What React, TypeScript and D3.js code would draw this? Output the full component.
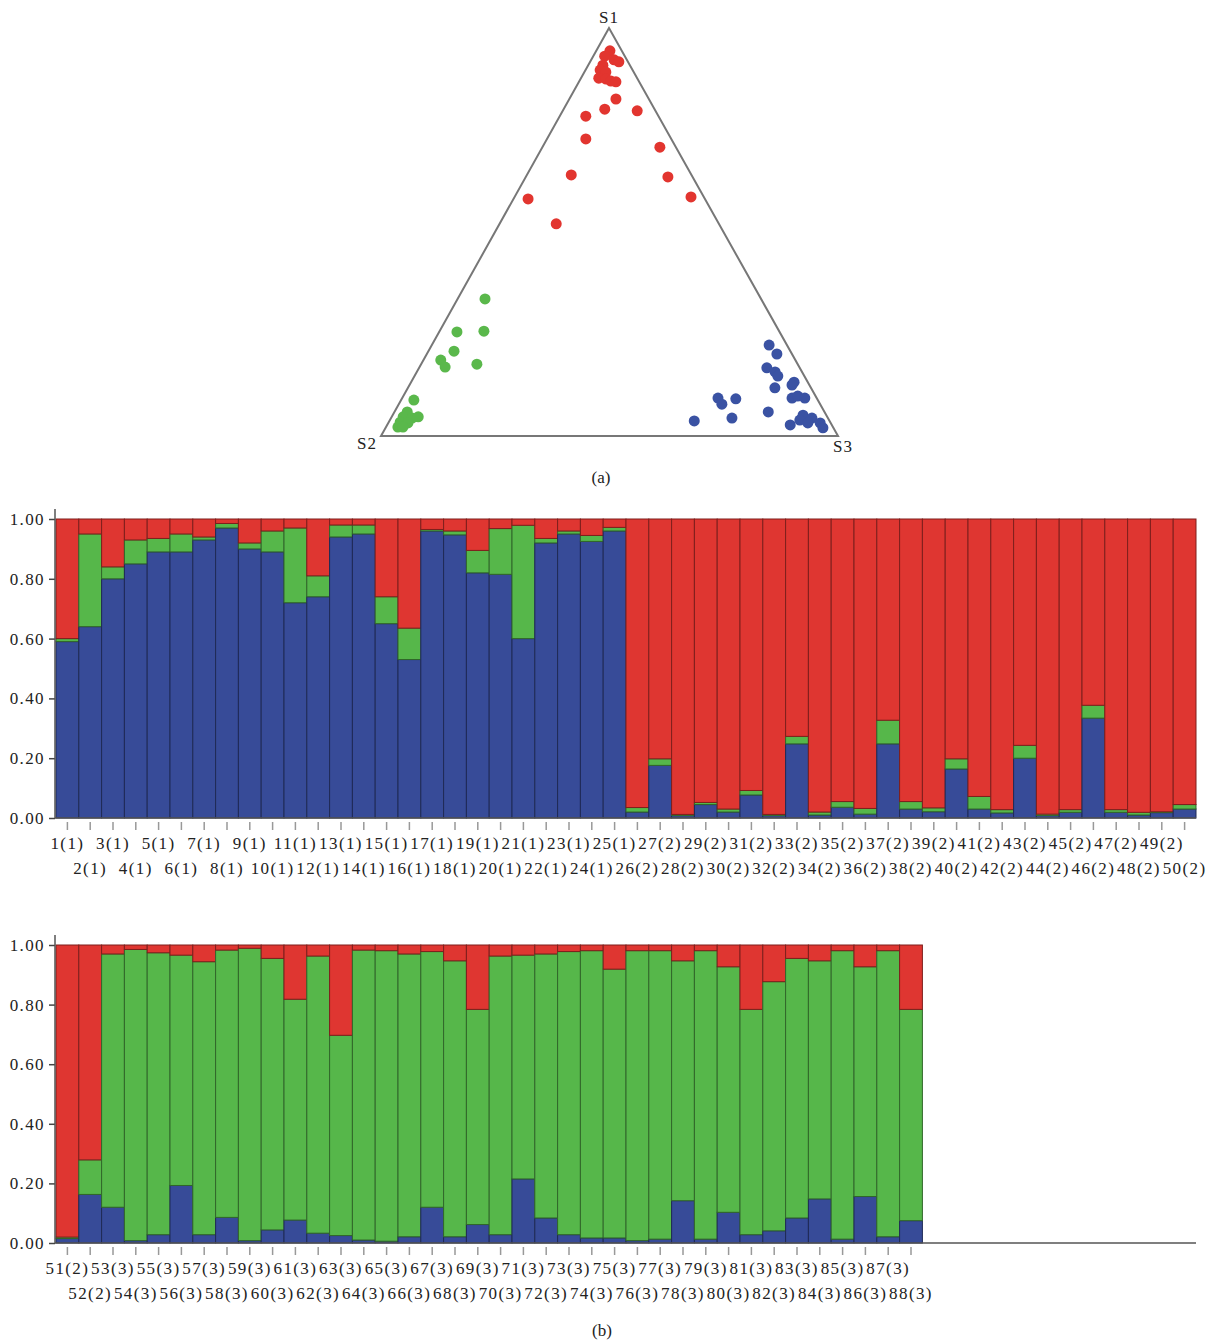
import { useEffect, useRef } from 'react';
import * as d3 from 'd3';

// individuals 1-50 (upper panel) and 51-88 (lower panel), population in brackets
const labelsTop = [
  "1(1)", "2(1)", "3(1)", "4(1)", "5(1)", "6(1)", "7(1)", "8(1)", "9(1)", "10(1)",
  "11(1)", "12(1)", "13(1)", "14(1)", "15(1)", "16(1)", "17(1)", "18(1)", "19(1)", "20(1)",
  "21(1)", "22(1)", "23(1)", "24(1)", "25(1)", "26(2)", "27(2)", "28(2)", "29(2)", "30(2)",
  "31(2)", "32(2)", "33(2)", "34(2)", "35(2)", "36(2)", "37(2)", "38(2)", "39(2)", "40(2)",
  "41(2)", "42(2)", "43(2)", "44(2)", "45(2)", "46(2)", "47(2)", "48(2)", "49(2)", "50(2)"
];
// membership share of the blue and green cluster; red is the rest
const blueTop = [
  0.59, 0.64, 0.80, 0.85, 0.89, 0.89, 0.93, 0.97, 0.90, 0.89,
  0.72, 0.74, 0.94, 0.95, 0.65, 0.53, 0.96, 0.947, 0.82, 0.815,
  0.60, 0.92, 0.95, 0.925, 0.96, 0.02, 0.176, 0.008, 0.045, 0.02,
  0.077, 0.008, 0.248, 0.01, 0.036, 0.013, 0.248, 0.03, 0.021, 0.164,
  0.03, 0.017, 0.20, 0.008, 0.019, 0.334, 0.019, 0.01, 0.018, 0.03
];
const greenTop = [
  0.01, 0.31, 0.04, 0.08, 0.045, 0.06, 0.01, 0.015, 0.02, 0.07,
  0.25, 0.07, 0.04, 0.03, 0.09, 0.105, 0.005, 0.013, 0.075, 0.153,
  0.379, 0.015, 0.01, 0.02, 0.012, 0.015, 0.022, 0.004, 0.007, 0.01,
  0.015, 0.004, 0.025, 0.01, 0.019, 0.019, 0.079, 0.025, 0.013, 0.034,
  0.042, 0.011, 0.043, 0.005, 0.009, 0.043, 0.009, 0.009, 0.003, 0.015
];

const labelsBottom = [
  "51(2)", "52(2)", "53(3)", "54(3)", "55(3)", "56(3)", "57(3)", "58(3)", "59(3)", "60(3)",
  "61(3)", "62(3)", "63(3)", "64(3)", "65(3)", "66(3)", "67(3)", "68(3)", "69(3)", "70(3)",
  "71(3)", "72(3)", "73(3)", "74(3)", "75(3)", "76(3)", "77(3)", "78(3)", "79(3)", "80(3)",
  "81(3)", "82(3)", "83(3)", "84(3)", "85(3)", "86(3)", "87(3)", "88(3)"
];
const blueBottom = [
  0.015, 0.163, 0.12, 0.008, 0.028, 0.193, 0.028, 0.086, 0.008, 0.044,
  0.077, 0.033, 0.025, 0.01, 0.006, 0.021, 0.12, 0.021, 0.062, 0.028,
  0.215, 0.084, 0.028, 0.017, 0.017, 0.008, 0.013, 0.142, 0.013, 0.103,
  0.028, 0.041, 0.084, 0.148, 0.013, 0.156, 0.021, 0.075
];
const greenBottom = [
  0.005, 0.116, 0.85, 0.977, 0.946, 0.773, 0.916, 0.897, 0.981, 0.911,
  0.741, 0.93, 0.672, 0.973, 0.975, 0.949, 0.858, 0.926, 0.722, 0.935,
  0.751, 0.886, 0.95, 0.964, 0.902, 0.973, 0.968, 0.805, 0.968, 0.824,
  0.756, 0.836, 0.871, 0.799, 0.968, 0.771, 0.96, 0.709
];

// triangle plot: [S1, S2, S3] proportions of each dot
const redDots = [
  [0.944, 0.026, 0.030], [0.931, 0.044, 0.025], [0.922, 0.028, 0.050], [0.917, 0.020, 0.063],
  [0.909, 0.059, 0.032], [0.897, 0.071, 0.032], [0.892, 0.061, 0.047], [0.877, 0.084, 0.039],
  [0.875, 0.069, 0.056], [0.870, 0.061, 0.069], [0.868, 0.051, 0.081], [0.826, 0.072, 0.102],
  [0.801, 0.109, 0.090], [0.784, 0.159, 0.057], [0.797, 0.040, 0.163], [0.728, 0.187, 0.085],
  [0.708, 0.035, 0.257], [0.640, 0.263, 0.097], [0.635, 0.054, 0.311], [0.581, 0.387, 0.032],
  [0.586, 0.028, 0.386], [0.520, 0.356, 0.124]
];
const greenDots = [
  [0.336, 0.604, 0.060], [0.255, 0.706, 0.039], [0.257, 0.646, 0.097], [0.208, 0.736, 0.056],
  [0.186, 0.776, 0.038], [0.169, 0.775, 0.056], [0.176, 0.702, 0.122], [0.088, 0.884, 0.028],
  [0.059, 0.913, 0.028], [0.047, 0.928, 0.025], [0.034, 0.941, 0.025], [0.022, 0.952, 0.026],
  [0.044, 0.910, 0.046], [0.047, 0.895, 0.058], [0.032, 0.925, 0.043], [0.022, 0.941, 0.037]
];
const blueDots = [
  [0.223, 0.039, 0.738], [0.201, 0.033, 0.766], [0.167, 0.072, 0.761], [0.157, 0.059, 0.784],
  [0.147, 0.058, 0.795], [0.118, 0.079, 0.803], [0.132, 0.030, 0.838], [0.125, 0.038, 0.837],
  [0.093, 0.054, 0.853], [0.098, 0.039, 0.863], [0.093, 0.026, 0.881], [0.059, 0.123, 0.818],
  [0.027, 0.091, 0.882], [0.051, 0.051, 0.898], [0.044, 0.035, 0.921], [0.032, 0.023, 0.945],
  [0.020, 0.023, 0.957], [0.039, 0.064, 0.897], [0.032, 0.050, 0.918], [0.093, 0.216, 0.691],
  [0.078, 0.215, 0.707], [0.091, 0.178, 0.731], [0.044, 0.210, 0.746], [0.037, 0.296, 0.667]
];

const yTicks = [0, 0.2, 0.4, 0.6, 0.8, 1];
const cornerNames = ["S1", "S2", "S3"];

const RED = "#df3631";
const GREEN = "#56b74a";
const BLUE = "#374b98";
const FONT = "Liberation Serif, Times New Roman, Times, serif";

function App() {
  const svgRef = useRef<SVGSVGElement>(null);

  useEffect(() => {
    if (!svgRef.current) return;
    const svg = d3.select(svgRef.current);
    svg.selectAll("*").remove();

    // ---------- (a) triangle ----------
    const apex = [609, 28], left = [381, 436], right = [838, 436];
    const tx = (p: number[]) => p[0] * apex[0] + p[1] * left[0] + p[2] * right[0];
    const ty = (p: number[]) => p[0] * apex[1] + p[1] * left[1] + p[2] * right[1];

    svg.append("path")
      .attr("d", d3.line()([apex, left, right, apex] as [number, number][]) + "Z")
      .attr("fill", "none")
      .attr("stroke", "#777")
      .attr("stroke-width", 2);

    const dotSets: [number[][], string][] = [[redDots, "#e2352f"], [greenDots, "#5ab84b"], [blueDots, "#3a52a3"]];
    dotSets.forEach(([pts, col]) => {
      svg.append("g").selectAll("circle")
        .data(pts)
        .join("circle")
        .attr("cx", d => tx(d))
        .attr("cy", d => ty(d))
        .attr("r", 5.5)
        .attr("fill", col);
    });

    const cornerPos = [[apex[0], apex[1] - 5], [left[0] - 14, left[1] + 13], [right[0] + 5, right[1] + 16]];
    svg.append("g").selectAll("text")
      .data(cornerNames)
      .join("text")
      .attr("x", (_, i) => cornerPos[i][0])
      .attr("y", (_, i) => cornerPos[i][1])
      .attr("text-anchor", "middle")
      .attr("font-family", FONT)
      .attr("font-size", 17)
      .attr("letter-spacing", 1)
      .attr("fill", "#222")
      .text(d => d);

    svg.append("text")
      .attr("x", 601).attr("y", 483)
      .attr("text-anchor", "middle")
      .attr("font-family", FONT)
      .attr("font-size", 17)
      .attr("fill", "#222")
      .text("(a)");

    // ---------- (b) bar panels ----------
    const plotLeft = 56, plotRight = 1196;
    const xTop = d3.scaleBand().domain(labelsTop).range([plotLeft, plotRight]).padding(0);
    const step = xTop.step();
    const xBottom = d3.scaleBand().domain(labelsBottom)
      .range([plotLeft, plotLeft + labelsBottom.length * step]).padding(0);

    const panel = (x: d3.ScaleBand<string>, labels: string[], blue: number[], green: number[],
      y0: number, y1: number) => {
      const y = d3.scaleLinear().domain([0, 1]).range([y0, y1]);
      const g = svg.append("g");

      const rows = labels.map((l, i) => ({
        l,
        segs: [
          { a: 0, b: blue[i], c: BLUE },
          { a: blue[i], b: blue[i] + green[i], c: GREEN },
          { a: blue[i] + green[i], b: 1, c: RED }
        ]
      }));

      const bar = g.selectAll("g.bar").data(rows).join("g").attr("class", "bar");
      bar.selectAll("rect")
        .data(d => d.segs.map(s => ({ ...s, l: d.l })))
        .join("rect")
        .attr("x", d => x(d.l)!)
        .attr("width", x.bandwidth())
        .attr("y", d => y(d.b))
        .attr("height", d => Math.max(0, y(d.a) - y(d.b)))
        .attr("fill", d => d.c)
        .attr("stroke", d => d3.color(d.c)!.darker(1.6).formatHex())
        .attr("stroke-width", 1);

      // x axis line and ticks
      g.append("line")
        .attr("x1", plotLeft - 1).attr("x2", plotRight)
        .attr("y1", y0).attr("y2", y0)
        .attr("stroke", "#555").attr("stroke-width", 1.5);
      g.selectAll("line.xt").data(labels).join("line")
        .attr("class", "xt")
        .attr("x1", d => x(d)! + x.bandwidth() / 2)
        .attr("x2", d => x(d)! + x.bandwidth() / 2)
        .attr("y1", y0 + 4).attr("y2", y0 + 12)
        .attr("stroke", "#999").attr("stroke-width", 1.5);
      g.selectAll("text.xl").data(labels).join("text")
        .attr("class", "xl")
        .attr("x", d => x(d)! + x.bandwidth() / 2)
        .attr("y", (_, i) => y0 + (i % 2 === 0 ? 31 : 56))
        .attr("text-anchor", "middle")
        .attr("font-family", FONT)
        .attr("font-size", 17)
        .attr("letter-spacing", 1.4)
        .attr("fill", "#222")
        .text(d => d);

      // y axis
      const ax = g.append("g")
        .attr("transform", `translate(${plotLeft - 1},0)`)
        .call(d3.axisLeft(y).tickValues(yTicks).tickFormat(d3.format(".2f")).tickSize(6).tickPadding(4));
      ax.select(".domain").remove();
      ax.selectAll(".tick line").attr("stroke", "#444").attr("stroke-width", 1.5);
      ax.selectAll(".tick text")
        .attr("font-family", FONT)
        .attr("font-size", 17)
        .attr("letter-spacing", 1.4)
        .attr("fill", "#222");
      g.append("line")
        .attr("x1", plotLeft - 1).attr("x2", plotLeft - 1)
        .attr("y1", y1 - 10).attr("y2", y0)
        .attr("stroke", "#555").attr("stroke-width", 1.5);
    };

    panel(xTop, labelsTop, blueTop, greenTop, 818, 519);
    panel(xBottom, labelsBottom, blueBottom, greenBottom, 1243, 945);

    svg.append("text")
      .attr("x", 602).attr("y", 1336)
      .attr("text-anchor", "middle")
      .attr("font-family", FONT)
      .attr("font-size", 17)
      .attr("fill", "#222")
      .text("(b)");
  }, []);

  return (
    <svg ref={svgRef} width={1214} height={1340}
      style={{ position: "absolute", left: 0, top: 0, background: "#fff" }} />
  );
}

export default App;
